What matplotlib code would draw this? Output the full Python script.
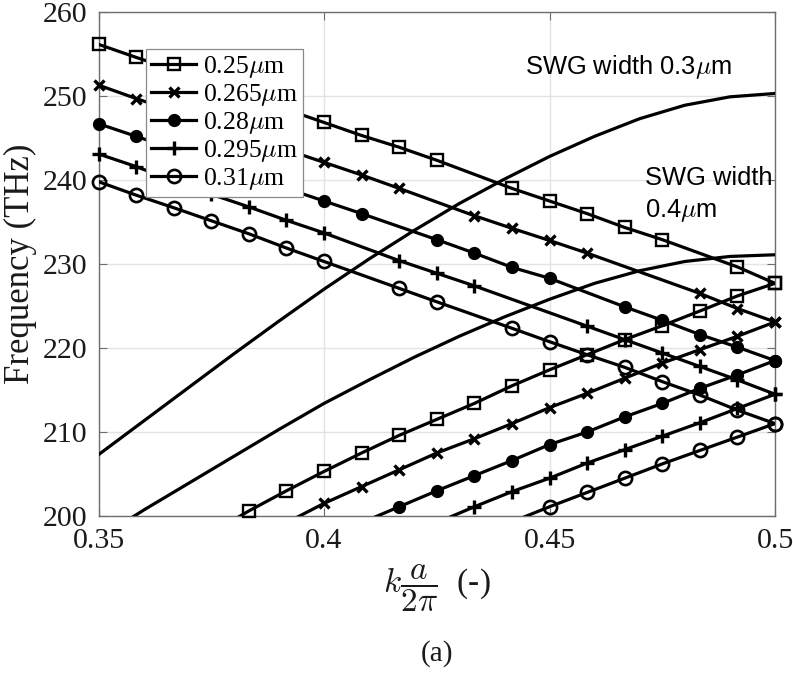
import matplotlib
matplotlib.use('Agg')
import matplotlib.pyplot as plt
from matplotlib.lines import Line2D

plt.rcParams['font.family'] = ['Liberation Serif', 'DejaVu Serif']
plt.rcParams['mathtext.fontset'] = 'cm'

# Normalised wave vector k*a/(2*pi) at which the bands were computed
k = [0.35, 0.35833, 0.36667, 0.375, 0.38333, 0.39167, 0.4, 0.40833, 0.41667,
     0.425, 0.43333, 0.44167, 0.45, 0.45833, 0.46667, 0.475, 0.48333, 0.49167, 0.5]

widths = ['0.25', '0.265', '0.28', '0.295', '0.31']

# Upper (descending) bands in THz; None = point not resolved
upper_025 = [256.15, 254.6, 253.1, 251.5, 250.0, 248.4, 246.85, 245.3, 243.9, 242.35,
             None, 239.0, 237.5, 236.0, 234.35, 232.9, None, 229.65, 227.7]
upper_0265 = [251.3, 249.7, 248.2, 246.6, 245.1, 243.6, 242.1, 240.6, 239.0, None,
              235.75, 234.25, 232.8, 231.3, None, None, 226.5, 224.7, 223.1]
upper_028 = [246.7, 245.2, 243.7, 242.1, 240.6, 239.0, 237.5, 236.0, None, 232.9,
             231.3, 229.6, 228.3, None, 224.9, 223.3, 221.6, 220.1, 218.5]
upper_0295 = [243.1, 241.6, 239.9, 238.3, 236.8, 235.2, 233.7, None, 230.4, 228.9,
              227.4, None, None, 222.6, 221.0, 219.4, 217.8, 216.2, 214.5]
upper_031 = [239.8, 238.2, 236.7, 235.15, 233.6, 231.9, 230.3, None, 227.1, 225.5,
             None, 222.35, 220.75, 219.2, 217.7, 216.0, 214.4, 212.6, 211.0]

# Lower (ascending, folded) bands in THz
lower_025 = [None, None, None, 198.0, 200.6, 203.0, 205.3, 207.5, 209.6, 211.5,
             213.4, 215.5, 217.4, 219.2, 221.0, 222.65, 224.4, 226.2, 227.7]
lower_0265 = [None, None, None, None, None, 199.2, 201.5, 203.5, 205.5, 207.5,
              209.2, 211.0, 212.9, 214.6, 216.4, 218.2, 219.8, 221.4, 223.1]
lower_028 = [None, None, None, None, None, None, None, 199.2, 201.1, 203.0,
             204.8, 206.6, 208.5, 210.0, 211.8, 213.4, 215.2, 216.8, 218.5]
lower_0295 = [None, None, None, None, None, None, None, None, None, 199.2,
              201.1, 202.9, 204.5, 206.3, 207.9, 209.5, 211.1, 212.8, 214.5]
lower_031 = [None, None, None, None, None, None, None, None, None, None,
             None, 199.3, 201.1, 202.8, 204.5, 206.2, 207.8, 209.4, 211.0]

# Sub-wavelength grating waveguide bands
k_swg = [0.35, 0.36, 0.37, 0.38, 0.39, 0.40, 0.41, 0.42, 0.43, 0.44, 0.45,
         0.46, 0.47, 0.48, 0.49, 0.50]
swg_03 = [207.3, 211.3, 215.3, 219.3, 223.2, 227.0, 230.6, 234.0, 237.2, 240.1,
          242.8, 245.2, 247.3, 248.9, 249.9, 250.3]
swg_04 = [197.3, 200.7, 203.9, 207.1, 210.3, 213.4, 216.2, 218.9, 221.4, 223.7,
          225.8, 227.7, 229.2, 230.3, 230.9, 231.1]

upper = [upper_025, upper_0265, upper_028, upper_0295, upper_031]
lower = [lower_025, lower_0265, lower_028, lower_0295, lower_031]

LW = 2.3
styles = [
    dict(marker='s', ms=8.0, mfc='none', mew=1.7),
    dict(marker='x', ms=7.5, mfc='k', mew=2.4),
    dict(marker='o', ms=8.0, mfc='k', mew=1.5),
    dict(marker='+', ms=9.5, mfc='k', mew=2.4),
    dict(marker='o', ms=9.5, mfc='none', mew=1.9),
]

YMIN, YMAX = 200, 260
XMIN, XMAX = 0.35, 0.5

fig = plt.figure(figsize=(7.93, 6.75), dpi=100)
ax = fig.add_axes([98.5 / 793, 1 - 516 / 675, (775 - 98.5) / 793, 504 / 675])


def draw_branch(values, st):
    xs = [x for x, v in zip(k, values) if v is not None]
    ys = [v for v in values if v is not None]
    ax.plot(xs, ys, '-', color='k', lw=LW, zorder=3)
    xm = [x for x, y in zip(xs, ys) if YMIN <= y <= YMAX]
    ym = [y for y in ys if YMIN <= y <= YMAX]
    ax.plot(xm, ym, linestyle='none', color='k', mec='k', clip_on=False,
            zorder=4, **st)


for vals, st in zip(upper, styles):
    draw_branch(vals, st)
for vals, st in zip(lower, styles):
    draw_branch(vals, st)

ax.plot(k_swg, swg_03, '-', color='k', lw=LW, zorder=3)
ax.plot(k_swg, swg_04, '-', color='k', lw=LW, zorder=3)

ax.set_xlim(XMIN, XMAX)
ax.set_ylim(YMIN, YMAX)
ax.set_xticks([0.35, 0.4, 0.45, 0.5])
ax.set_xticklabels(['0.35', '0.4', '0.45', '0.5'])
ax.set_yticks([200, 210, 220, 230, 240, 250, 260])

ax.grid(True, color='#e3e3e3', lw=1.0, zorder=0)
ax.set_axisbelow(True)
for sp in ax.spines.values():
    sp.set_color('#6e6e6e')
    sp.set_linewidth(1.0)
ax.tick_params(direction='in', length=5.5, width=0.8, color='#6e6e6e',
               top=True, right=True, labelsize=21.5, labelcolor='#1a1a1a')
ax.tick_params(axis='x', pad=9)
ax.tick_params(axis='y', pad=8)

ax.set_ylabel('Frequency (THz)', fontsize=25, color='#1a1a1a', labelpad=4)
ax.set_xlabel(r'$k\dfrac{a}{2\pi}$  (-)', fontsize=24, color='#1a1a1a', labelpad=6)

handles = [Line2D([], [], color='k', lw=LW, mec='k', **st) for st in styles]
labels = [w + r'$\mu$m' for w in widths]
leg = ax.legend(handles, labels, loc='upper left',
                bbox_to_anchor=(0.0702, 0.9266), borderaxespad=0,
                fontsize=18.5, frameon=True, fancybox=False, framealpha=1,
                edgecolor='#8a8a8a', handlelength=1.75, handletextpad=0.25,
                labelspacing=0.08, borderpad=0.2)
leg.get_frame().set_linewidth(0.9)
leg.set_zorder(10)

ax.text(0.4446, 252.6, r'SWG width 0.3$\mu$m', family='Liberation Sans',
        fontsize=18.4, ha='left', va='baseline', zorder=6)
ax.text(0.4712, 239.4, 'SWG width', family='Liberation Sans',
        fontsize=18.4, ha='left', va='baseline', zorder=6)
ax.text(0.4712, 235.6, r'0.4$\mu$m', family='Liberation Sans',
        fontsize=18.4, ha='left', va='baseline', zorder=6)

fig.text((98.5 + 775) / 2 / 793, 1 - 654 / 675, '(a)', fontsize=21,
         ha='center', va='center', color='#1a1a1a')

fig.savefig('out.png', dpi=100)
